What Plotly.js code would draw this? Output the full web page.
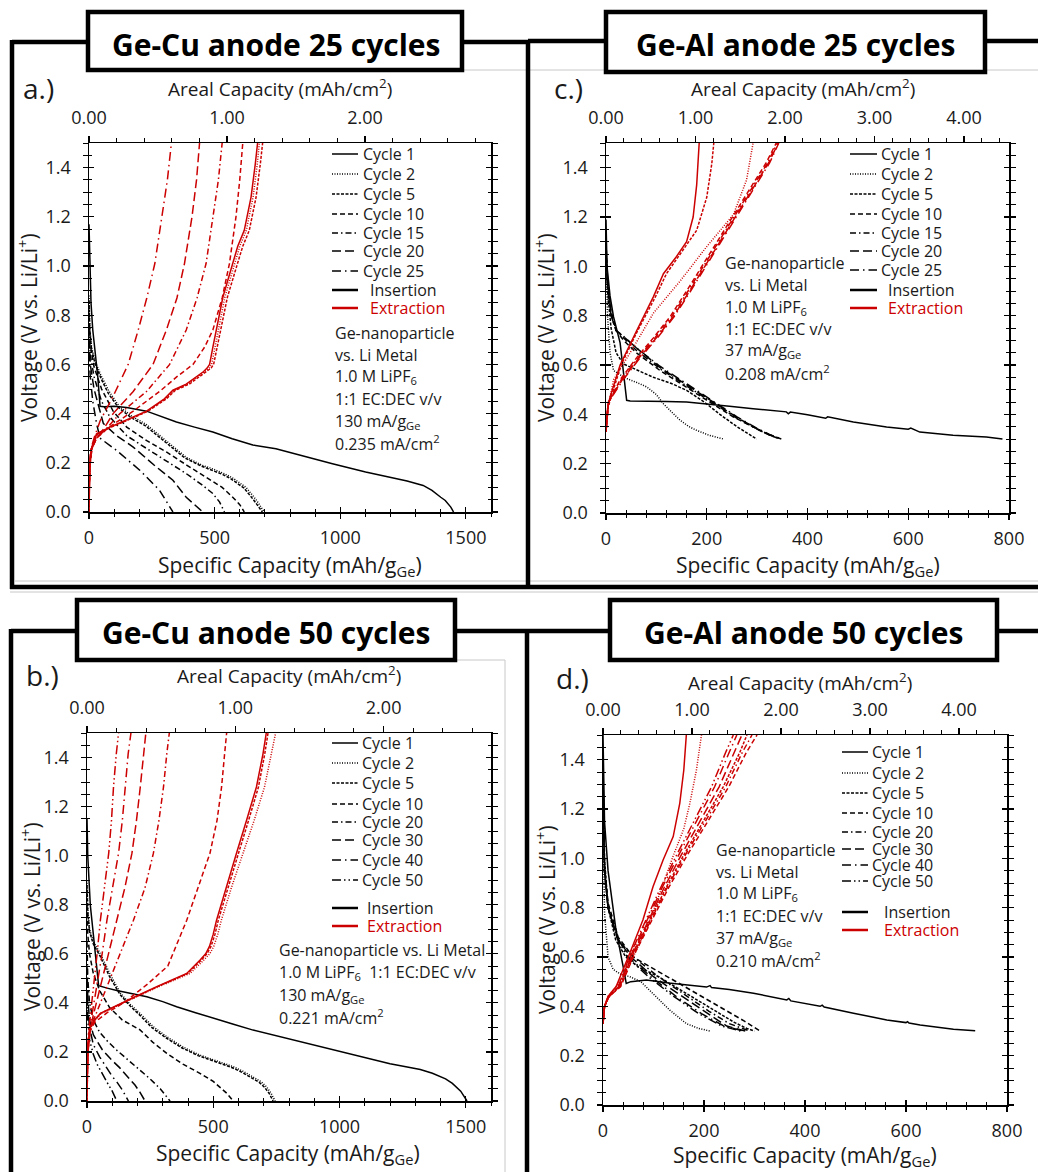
<!DOCTYPE html>
<html><head><meta charset="utf-8">
<script src="https://cdn.plot.ly/plotly-3.0.1.min.js"></script>
<style>html,body{margin:0;padding:0;background:#fff}#chart{width:1038px;height:1172px}</style>
</head><body><div id="chart"></div>
<script>
// ================= DATA =================
// ---- (a) Ge-Cu anode 25 cycles
const cyclesA = ['Cycle 1','Cycle 2','Cycle 5','Cycle 10','Cycle 15','Cycle 20','Cycle 25'];
const insXA = [
 [0,3,8,15,24,35,44,60,100,150,229,300,348,420,493,570,652,744,850,969,1101,1200,1266,1330,1365,1400,1418,1440,1451],
 [0,3,10,25,50,80,120,170,229,308,387,450,493,540,572,625,665,691,698],
 [0,3,10,25,49,78,117,166,225,303,381,444,487,533,565,617,656,682,690],
 [0,5,20,50,96,150,230,308,390,467,530,572,600,618],
 [0,5,20,50,83,150,242,320,387,450,493,520,539],
 [0,5,20,40,57,110,176,260,334,387,420,453],
 [0,5,15,30,44,110,202,281,310,334]
];
const insVA = [
 [1.17,1.0,0.85,0.74,0.66,0.55,0.43,0.428,0.43,0.425,0.41,0.385,0.366,0.345,0.325,0.298,0.272,0.257,0.228,0.196,0.163,0.14,0.126,0.108,0.088,0.06,0.047,0.02,0.0],
 [0.88,0.75,0.67,0.61,0.55,0.49,0.43,0.39,0.355,0.29,0.222,0.19,0.175,0.155,0.138,0.1,0.05,0.01,0.0],
 [0.86,0.74,0.66,0.6,0.54,0.48,0.425,0.385,0.35,0.285,0.22,0.188,0.172,0.152,0.135,0.097,0.048,0.01,0.0],
 [0.8,0.68,0.59,0.5,0.41,0.345,0.29,0.244,0.19,0.142,0.1,0.06,0.03,0.0],
 [0.75,0.64,0.55,0.45,0.386,0.31,0.25,0.2,0.156,0.11,0.075,0.04,0.0],
 [0.7,0.6,0.5,0.42,0.36,0.31,0.264,0.19,0.129,0.06,0.03,0.0],
 [0.65,0.55,0.45,0.36,0.30,0.25,0.17,0.088,0.04,0.0]
];
const extXA = [
 [0,1,4,11,30,83,149,229,300,334,387,427,455,470,480,493,506,533,572,592,618,645,662,671],
 [0,1,5,12,32,85,150,232,304,339,393,433,462,478,488,501,514,541,580,600,626,653,670,678],
 [0,1,5,13,34,88,153,235,308,344,399,440,470,486,496,510,523,551,591,612,638,665,682,691],
 [0,2,8,30,80,176,281,350,414,460,493,530,559,585,600,612],
 [0,2,8,30,70,123,229,321,387,430,466,495,515,530],
 [0,2,8,30,60,96,176,255,308,350,380,410,428,440],
 [0,2,6,20,44,70,96,156,196,230,262,290,312,328]
];
const extVA = [
 [0.0,0.1,0.2,0.264,0.318,0.345,0.373,0.41,0.46,0.495,0.52,0.549,0.57,0.585,0.6,0.67,0.74,0.874,1.01,1.08,1.145,1.28,1.416,1.5],
 [0.0,0.1,0.2,0.264,0.318,0.345,0.373,0.41,0.46,0.495,0.52,0.549,0.57,0.585,0.6,0.67,0.74,0.874,1.01,1.08,1.145,1.28,1.416,1.5],
 [0.0,0.1,0.2,0.264,0.318,0.345,0.373,0.41,0.46,0.495,0.52,0.549,0.57,0.585,0.6,0.67,0.74,0.874,1.01,1.08,1.145,1.28,1.416,1.5],
 [0.05,0.18,0.25,0.3,0.345,0.41,0.49,0.55,0.6,0.67,0.74,0.87,1.01,1.2,1.35,1.5],
 [0.05,0.18,0.25,0.3,0.34,0.4,0.49,0.6,0.74,0.87,1.01,1.2,1.35,1.5],
 [0.05,0.18,0.25,0.3,0.34,0.4,0.49,0.6,0.74,0.87,1.01,1.2,1.35,1.5],
 [0.05,0.18,0.25,0.3,0.37,0.42,0.47,0.6,0.74,0.87,1.01,1.2,1.35,1.5]
];
const arealRangeA = [0, 2.913];
const infoA = ['Ge-nanoparticle','vs. Li Metal','1.0 M LiPF<sub>6</sub>','1:1 EC:DEC v/v','130 mA/g<sub>Ge</sub>','0.235 mA/cm<sup>2</sup>'];

// ---- (b) Ge-Cu anode 50 cycles
const cyclesB = ['Cycle 1','Cycle 2','Cycle 5','Cycle 10','Cycle 20','Cycle 30','Cycle 40','Cycle 50'];
const insXB = [
 [0,3,13,26,46,80,118,180,237,300,355,430,500,580,658,737,850,974,1105,1200,1263,1320,1368,1420,1447,1480,1505],
 [0,3,10,25,53,90,132,170,210,260,316,380,447,510,579,620,658,690,711,730,745],
 [0,3,10,25,52,88,130,168,207,256,312,375,440,502,570,612,650,682,703,722,737],
 [0,3,10,25,50,90,140,210,260,316,380,447,500,526,555,579],
 [0,3,10,25,50,80,120,160,210,250,290,329],
 [0,3,10,25,60,95,130,160,190,210,230],
 [0,3,10,25,50,80,100,120,140,164],
 [0,3,10,25,40,60,80,100,118]
];
const insVB = [
 [1.15,1.0,0.8,0.67,0.47,0.46,0.45,0.437,0.425,0.405,0.384,0.36,0.337,0.313,0.289,0.269,0.24,0.208,0.174,0.152,0.14,0.128,0.113,0.09,0.072,0.04,0.0],
 [0.9,0.78,0.7,0.65,0.6,0.52,0.44,0.395,0.357,0.305,0.262,0.22,0.187,0.165,0.14,0.12,0.099,0.078,0.058,0.03,0.0],
 [0.88,0.77,0.69,0.64,0.59,0.51,0.435,0.39,0.352,0.3,0.258,0.217,0.185,0.163,0.138,0.118,0.097,0.076,0.056,0.03,0.0],
 [0.8,0.68,0.6,0.52,0.45,0.38,0.33,0.29,0.24,0.194,0.15,0.113,0.08,0.058,0.03,0.0],
 [0.65,0.5,0.4,0.33,0.28,0.245,0.205,0.17,0.125,0.09,0.05,0.0],
 [0.55,0.42,0.33,0.27,0.21,0.17,0.135,0.1,0.065,0.035,0.0],
 [0.5,0.38,0.3,0.23,0.18,0.13,0.1,0.075,0.045,0.0],
 [0.45,0.33,0.25,0.19,0.15,0.11,0.075,0.04,0.0]
];
const extXB = [
 [0,1,3,13,30,53,105,180,276,340,395,447,470,485,500,513,550,592,632,671,697,710],
 [0,1,3,14,32,56,110,186,284,350,408,462,486,502,518,532,572,618,662,703,731,747],
 [0,1,3,13,31,54,107,183,280,345,400,452,475,491,507,520,558,600,640,679,704,717],
 [0,1,3,10,30,80,145,237,320,395,440,487,515,533,545,553],
 [0,1,3,10,30,79,130,184,230,263,285,303,316,326],
 [0,1,3,10,25,53,85,118,150,178,196,211,223,233],
 [0,1,3,8,20,40,60,79,102,125,140,151,163,174],
 [0,1,3,6,14,26,40,53,70,86,97,105,116,125]
];
const extVB = [
 [0.0,0.1,0.19,0.3,0.33,0.357,0.384,0.42,0.466,0.495,0.52,0.574,0.6,0.63,0.68,0.737,0.87,1.01,1.144,1.28,1.415,1.5],
 [0.0,0.1,0.19,0.3,0.33,0.357,0.384,0.42,0.466,0.495,0.52,0.574,0.6,0.63,0.68,0.737,0.87,1.01,1.144,1.28,1.415,1.5],
 [0.0,0.1,0.19,0.3,0.33,0.357,0.384,0.42,0.466,0.495,0.52,0.574,0.6,0.63,0.68,0.737,0.87,1.01,1.144,1.28,1.415,1.5],
 [0.05,0.15,0.22,0.28,0.32,0.36,0.4,0.474,0.55,0.737,0.87,1.01,1.144,1.28,1.415,1.5],
 [0.05,0.15,0.22,0.28,0.34,0.466,0.6,0.737,0.87,1.01,1.144,1.28,1.415,1.5],
 [0.05,0.15,0.22,0.28,0.35,0.466,0.6,0.737,0.87,1.01,1.144,1.28,1.415,1.5],
 [0.05,0.15,0.22,0.28,0.35,0.466,0.6,0.737,0.87,1.01,1.144,1.28,1.415,1.5],
 [0.05,0.15,0.22,0.28,0.35,0.466,0.6,0.737,0.87,1.01,1.144,1.28,1.415,1.5]
];
const arealRangeB = [0, 2.724];
const infoB = ['Ge-nanoparticle vs. Li Metal','1.0 M LiPF<sub>6</sub>  1:1 EC:DEC v/v','130 mA/g<sub>Ge</sub>','0.221 mA/cm<sup>2</sup>'];

// ---- (c) Ge-Al anode 25 cycles
const cyclesC = ['Cycle 1','Cycle 2','Cycle 5','Cycle 10','Cycle 15','Cycle 20','Cycle 25'];
const insXC = [
 [0,2,8,15,28,41,48,80,120,160,200,250,292,330,358,362,366,400,424,436,440,491,557,600,605,623,689,755,787],
 [0,3,8,15,28,41,60,81,100,114,130,147,165,180,205,233],
 [0,3,10,20,34,60,94,130,160,195,226,260,299],
 [0,3,10,20,35,60,107,160,200,253,292,320,345],
 [0,3,10,20,35,60,107,160,205,255,295,322,347],
 [0,3,10,20,35,60,107,160,207,258,298,325,348],
 [0,3,10,20,33,60,107,160,210,260,300,327,349]
];
const insVC = [
 [1.19,1.0,0.88,0.795,0.69,0.457,0.454,0.452,0.452,0.45,0.443,0.432,0.423,0.415,0.41,0.402,0.409,0.398,0.389,0.384,0.39,0.369,0.349,0.34,0.344,0.328,0.315,0.308,0.30],
 [1.05,0.8,0.65,0.578,0.56,0.545,0.53,0.511,0.48,0.443,0.41,0.376,0.35,0.335,0.315,0.30],
 [1.1,0.9,0.75,0.65,0.605,0.58,0.55,0.525,0.497,0.45,0.4,0.35,0.30],
 [1.1,0.95,0.82,0.74,0.7,0.65,0.578,0.51,0.457,0.389,0.349,0.32,0.30],
 [1.08,0.94,0.81,0.74,0.71,0.66,0.585,0.515,0.455,0.39,0.345,0.318,0.30],
 [1.06,0.93,0.8,0.74,0.715,0.67,0.59,0.52,0.455,0.39,0.343,0.317,0.30],
 [1.05,0.92,0.8,0.74,0.72,0.67,0.595,0.525,0.457,0.39,0.343,0.316,0.30]
];
const extXC = [
 [0,3,8,28,61,94,114,140,160,173,180,185],
 [0,3,15,54,94,147,200,253,279,292],
 [0,3,10,30,63,98,120,147,180,200,210,214],
 [0,5,28,61,94,127,160,193,226,259,292,318,338],
 [0,5,30,64,97,130,163,196,229,262,295,321,340],
 [0,5,32,66,100,133,166,199,232,265,297,323,342],
 [0,5,34,68,102,135,168,201,234,267,299,325,343]
];
const extVC = [
 [0.33,0.42,0.47,0.6,0.74,0.876,0.97,1.04,1.1,1.2,1.33,1.5],
 [0.33,0.42,0.54,0.67,0.81,0.94,1.08,1.21,1.35,1.5],
 [0.33,0.42,0.47,0.6,0.74,0.876,0.97,1.05,1.146,1.28,1.416,1.5],
 [0.33,0.45,0.54,0.63,0.71,0.795,0.9,1.01,1.12,1.227,1.335,1.42,1.5],
 [0.33,0.45,0.54,0.63,0.71,0.795,0.9,1.01,1.12,1.227,1.335,1.42,1.5],
 [0.33,0.45,0.54,0.63,0.71,0.795,0.9,1.01,1.12,1.227,1.335,1.42,1.5],
 [0.33,0.45,0.54,0.63,0.71,0.795,0.9,1.01,1.12,1.227,1.335,1.42,1.5]
];
const arealRangeC = [0, 4.503];
const infoC = ['Ge-nanoparticle','vs. Li Metal','1.0 M LiPF<sub>6</sub>','1:1 EC:DEC v/v','37 mA/g<sub>Ge</sub>','0.208 mA/cm<sup>2</sup>'];

// ---- (d) Ge-Al anode 50 cycles
const cyclesD = ['Cycle 1','Cycle 2','Cycle 5','Cycle 10','Cycle 20','Cycle 30','Cycle 40','Cycle 50'];
const insXD = [
 [0,3,10,25,40,46,55,86,130,165,205,212,215,250,298,364,368,372,430,434,438,496,562,600,603,606,628,694,737],
 [0,3,10,20,35,53,75,99,132,165,190,212],
 [0,3,10,25,45,70,110,150,190,230,260,285,300],
 [0,3,10,30,60,120,180,240,280,311],
 [0,3,10,30,60,110,160,210,250,290],
 [0,3,10,30,55,100,150,200,245,282],
 [0,3,10,28,50,95,145,195,240,277],
 [0,3,10,27,48,90,140,190,235,272]
];
const insVD = [
 [1.5,1.15,0.95,0.72,0.56,0.493,0.5,0.507,0.495,0.486,0.478,0.484,0.476,0.468,0.453,0.426,0.432,0.422,0.4,0.405,0.397,0.372,0.345,0.334,0.338,0.332,0.324,0.307,0.301],
 [1.2,0.78,0.6,0.55,0.53,0.52,0.5,0.453,0.385,0.33,0.31,0.30],
 [1.35,1.0,0.8,0.67,0.6,0.56,0.52,0.47,0.42,0.37,0.335,0.31,0.30],
 [1.3,0.97,0.82,0.68,0.6,0.53,0.46,0.39,0.34,0.30],
 [1.3,0.95,0.8,0.67,0.6,0.52,0.45,0.38,0.33,0.30],
 [1.32,0.95,0.8,0.67,0.6,0.52,0.45,0.38,0.32,0.30],
 [1.34,0.95,0.8,0.68,0.6,0.52,0.44,0.37,0.32,0.30],
 [1.36,0.96,0.8,0.68,0.6,0.52,0.44,0.37,0.32,0.30]
];
const extXD = [
 [0,3,10,26,53,79,99,119,139,152,160,165],
 [0,3,10,30,60,93,120,139,160,172,185,195],
 [0,3,12,33,60,93,126,159,198,238,271,285],
 [0,3,12,35,63,97,131,166,207,249,284,305],
 [0,3,12,34,62,95,128,162,202,243,276,295],
 [0,3,12,32,59,90,122,154,192,230,260,275],
 [0,3,11,31,57,87,118,149,185,221,250,265],
 [0,3,11,30,55,85,115,145,180,215,243,258]
];
const extVD = [
 [0.33,0.4,0.44,0.48,0.615,0.75,0.885,0.993,1.088,1.223,1.358,1.5],
 [0.33,0.4,0.44,0.49,0.6,0.75,0.9,1.01,1.12,1.223,1.358,1.5],
 [0.33,0.4,0.44,0.48,0.615,0.75,0.885,1.01,1.15,1.29,1.43,1.5],
 [0.33,0.4,0.44,0.48,0.615,0.75,0.885,1.01,1.15,1.29,1.43,1.5],
 [0.33,0.4,0.44,0.48,0.615,0.75,0.885,1.01,1.15,1.29,1.43,1.5],
 [0.33,0.4,0.44,0.48,0.615,0.75,0.885,1.01,1.15,1.29,1.43,1.5],
 [0.33,0.4,0.44,0.48,0.615,0.75,0.885,1.01,1.15,1.29,1.43,1.5],
 [0.33,0.4,0.44,0.48,0.615,0.75,0.885,1.01,1.15,1.29,1.43,1.5]
];
const arealRangeD = [0, 4.54];
const infoD = ['Ge-nanoparticle','vs. Li Metal','1.0 M LiPF<sub>6</sub>','1:1 EC:DEC v/v','37 mA/g<sub>Ge</sub>','0.210 mA/cm<sup>2</sup>'];

const seriesLabels = ['Insertion','Extraction'];

// ================= STYLE =================
const W = 1038, H = 1172;
const FONT = 'Open Sans, sans-serif';
const TXT = '#1a1a1a';
const RED = '#CC0000';
const BLK = '#000000';
const LW = 1.5;
const dash25 = ['solid','1px,1.5px','3px,1.5px','5px,3px','6px,3px,1.5px,3px','9px,4px','9px,4px,1.5px,4px'];
const dash50 = ['solid','1px,1.5px','3px,1.5px','5px,3px','6px,3px,1.5px,3px','9px,4px','9px,4px,1.5px,4px','9px,3px,1.5px,3px,1.5px,3px'];

const PX = p => p / W;
const PY = p => 1 - p / H;

const panels = [
 {label:'a.)', title:'Ge-Cu anode 25 cycles', plot:[89,491,143,512], xmax:1600, xd:500, xm:100, areal:arealRangeA,
  cycles:cyclesA, insX:insXA, insV:insVA, extX:extXA, extV:extVA, dashes:dash25, info:infoA,
  lab:[21,88], arealT:[280,88], specT:[290,566], voltT:[28,328],
  legX:[332,358,361,368], legY:[154,174,194,214,233,251,271,290,308], infoX:333, infoY:[333,355,377,399,421,443],
  box:[88,462,12,70], boxT:[276,44]},
 {label:'c.)', title:'Ge-Al anode 25 cycles', plot:[606,1009,143,513], xmax:800, xd:200, xm:40, areal:arealRangeC,
  cycles:cyclesC, insX:insXC, insV:insVC, extX:extXC, extV:extVC, dashes:dash25, info:infoC,
  lab:[552,88], arealT:[803,88], specT:[808,566], voltT:[545,328],
  legX:[850,877,879,886], legY:[154,174,194,214,233,251,270,290,308], infoX:723, infoY:[263,285,307,329,351,373],
  box:[606,985,12,72], boxT:[795,44]},
 {label:'b.)', title:'Ge-Cu anode 50 cycles', plot:[87,491,733,1101], xmax:1600, xd:500, xm:100, areal:arealRangeB,
  cycles:cyclesB, insX:insXB, insV:insVB, extX:extXB, extV:extVB, dashes:dash50, info:infoB,
  lab:[24,675], arealT:[289,675], specT:[288,1154], voltT:[30,917],
  legX:[332,358,360,365], legY:[743,763,783,804,822,840,860,880,908,926], infoX:277, infoY:[950,972,995,1017],
  box:[77,455,600,660], boxT:[266,632]},
 {label:'d.)', title:'Ge-Al anode 50 cycles', plot:[603,1007,735,1105], xmax:800, xd:200, xm:40, areal:arealRangeD,
  cycles:cyclesD, insX:insXD, insV:insVD, extX:extXD, extV:extVD, dashes:dash50, info:infoD,
  lab:[554,678], arealT:[800,682], specT:[805,1156], voltT:[545,920],
  legX:[842,868,870,882], legY:[752,773,793,813,832,849,865,881,912,930], infoX:714, infoY:[850,872,893,916,938,960],
  box:[610,997,600,660], boxT:[803,632]}
];

const traces = [];
const layout = {
  width: W, height: H, margin:{l:0,r:0,t:0,b:0}, paper_bgcolor:'#ffffff', plot_bgcolor:'rgba(0,0,0,0)',
  showlegend:false, font:{family:FONT, color:TXT}, shapes:[], annotations:[]
};

const axKey = (c, id) => (id === 1 ? c + 'axis' : c + 'axis' + id);
const axRef = (c, id) => (id === 1 ? c : c + id);
const tickFont = {family:FONT, size:18, color:TXT};

function ann(text, x, y, o) {
  layout.annotations.push(Object.assign({text, x:PX(x), y:PY(y), xref:'paper', yref:'paper', showarrow:false,
    xanchor:'left', yanchor:'middle', font:{family:FONT, size:16, color:TXT}}, o || {}));
}
function seg(x0, y0, x1, y1, color, width, dash) {
  layout.shapes.push({type:'line', xref:'paper', yref:'paper', x0:PX(x0), y0:PY(y0), x1:PX(x1), y1:PY(y1),
    line:{color, width, dash: dash || 'solid'}});
}

// frames and background lines (drawn before title boxes)
const GRAY = '#c8c8c8';
seg(462, 70, 1038, 70, GRAY, 1);
seg(15, 581, 1038, 581, GRAY, 1);
seg(10, 592, 1038, 592, GRAY, 1);
seg(455, 660, 505, 660, GRAY, 1);
seg(505, 660, 505, 1172, GRAY, 1);
const FR = 4.5;
seg(12, 42, 530, 42, BLK, FR); seg(12, 40, 12, 589, BLK, FR); seg(10, 587, 1038, 587, BLK, FR);
seg(528, 40, 528, 589, BLK, FR);
seg(528, 41, 1038, 41, BLK, FR);
seg(11, 631, 527, 631, BLK, FR); seg(11, 629, 11, 1172, BLK, FR);
seg(527, 631, 1038, 631, BLK, FR); seg(527, 629, 527, 1172, BLK, FR);

panels.forEach((P, k) => {
  const xB = 3*k + 1, xT = 3*k + 2, xI = 3*k + 3;
  const yL = 2*k + 1, yI = 2*k + 2;
  const [px0, px1, py0, py1] = P.plot;
  const dx = [PX(px0), PX(px1)], dy = [PY(py1), PY(py0)];
  const common = {showgrid:false, zeroline:false, fixedrange:true, tickcolor:BLK, tickwidth:1.2, linecolor:BLK, linewidth:1.5};
  layout[axKey('x', xB)] = Object.assign({}, common, {domain:dx, anchor:axRef('y', yL), range:[0, P.xmax], tick0:0, dtick:P.xd,
    ticks:'outside', ticklen:5, minor:{dtick:P.xm, tick0:0, ticks:'outside', ticklen:3, tickcolor:BLK, tickwidth:1},
    showline:true, mirror:true, tickfont:tickFont, ticklabelstandoff:4});
  layout[axKey('x', xT)] = Object.assign({}, common, {overlaying:axRef('x', xB), anchor:axRef('y', yL), side:'top', range:P.areal,
    tick0:0, dtick:1, tickformat:'.2f', ticks:'outside', ticklen:6,
    minor:{dtick:0.2, tick0:0, ticks:'outside', ticklen:4, tickcolor:BLK, tickwidth:1},
    showline:true, tickfont:tickFont, ticklabelstandoff:4});
  layout[axKey('x', xI)] = Object.assign({}, common, {overlaying:axRef('x', xB), anchor:axRef('y', yL), side:'bottom', range:[0, P.xmax],
    tick0:0, dtick:P.xd, ticks:'inside', ticklen:5, minor:{dtick:P.xm, tick0:0, ticks:'inside', ticklen:3, tickcolor:BLK, tickwidth:1},
    showline:true, showticklabels:false});
  layout[axKey('y', yL)] = Object.assign({}, common, {domain:dy, anchor:axRef('x', xB), range:[0, 1.5], tick0:0, dtick:0.2,
    tickformat:'.1f', ticks:'outside', ticklen:5, minor:{dtick:0.05, tick0:0, ticks:'outside', ticklen:3, tickcolor:BLK, tickwidth:1},
    showline:true, mirror:'allticks', tickfont:tickFont, ticklabelstandoff:8});
  layout[axKey('y', yI)] = Object.assign({}, common, {overlaying:axRef('y', yL), anchor:axRef('x', xB), range:[0, 1.5], tick0:0, dtick:0.2,
    ticks:'inside', ticklen:5, minor:{dtick:0.05, tick0:0, ticks:'inside', ticklen:3, tickcolor:BLK, tickwidth:1},
    showline:true, mirror:'allticks', showticklabels:false});

  [[xT, yL], [xI, yL], [xB, yI]].forEach(([a, b]) => traces.push({type:'scatter', mode:'lines', x:[null], y:[null],
    xaxis:axRef('x', a), yaxis:axRef('y', b), hoverinfo:'skip', showlegend:false}));

  P.cycles.forEach((c, i) => {
    traces.push({type:'scatter', mode:'lines', name:c + ' ' + seriesLabels[0], x:P.insX[i], y:P.insV[i],
      xaxis:axRef('x', xB), yaxis:axRef('y', yL), line:{color:BLK, width:LW, dash:P.dashes[i]}, hoverinfo:'skip'});
  });
  P.cycles.forEach((c, i) => {
    traces.push({type:'scatter', mode:'lines', name:c + ' ' + seriesLabels[1], x:P.extX[i], y:P.extV[i],
      xaxis:axRef('x', xB), yaxis:axRef('y', yL), line:{color:RED, width:LW, dash:P.dashes[i]}, hoverinfo:'skip'});
  });

  const [lx0, lx1, tx, tx2] = P.legX;
  P.cycles.forEach((c, i) => {
    seg(lx0, P.legY[i], lx1, P.legY[i], BLK, LW, P.dashes[i]);
    ann(c, tx, P.legY[i]);
  });
  const nC = P.cycles.length;
  seg(lx0, P.legY[nC], lx1, P.legY[nC], BLK, 2.5);
  ann(seriesLabels[0], tx2, P.legY[nC]);
  seg(lx0, P.legY[nC+1], lx1, P.legY[nC+1], RED, 2.5);
  ann(seriesLabels[1], tx2, P.legY[nC+1], {font:{family:FONT, size:16, color:RED}});

  P.info.forEach((t, i) => ann(t, P.infoX, P.infoY[i]));

  ann(P.label, P.lab[0], P.lab[1], {font:{family:FONT, size:28, color:TXT}});
  ann('Areal Capacity (mAh/cm<sup>2</sup>)', P.arealT[0], P.arealT[1], {xanchor:'center', font:{family:FONT, size:19, color:TXT}});
  ann('Specific Capacity (mAh/g<sub>Ge</sub>)', P.specT[0], P.specT[1], {xanchor:'center', font:{family:FONT, size:21, color:TXT}});
  ann('Voltage (V vs. Li/Li<sup>+</sup>)', P.voltT[0], P.voltT[1], {xanchor:'center', textangle:-90, font:{family:FONT, size:21, color:TXT}});

  const [bx0, bx1, by0, by1] = P.box;
  layout.shapes.push({type:'rect', xref:'paper', yref:'paper', x0:PX(bx0), x1:PX(bx1), y0:PY(by1), y1:PY(by0),
    line:{color:BLK, width:4.5}, fillcolor:'#ffffff'});
  ann('<b>' + P.title + '</b>', P.boxT[0], P.boxT[1], {xanchor:'center', font:{family:FONT, size:30, color:'#000'}});
});

Plotly.newPlot('chart', traces, layout, {staticPlot:true, displayModeBar:false});
</script></body></html>
